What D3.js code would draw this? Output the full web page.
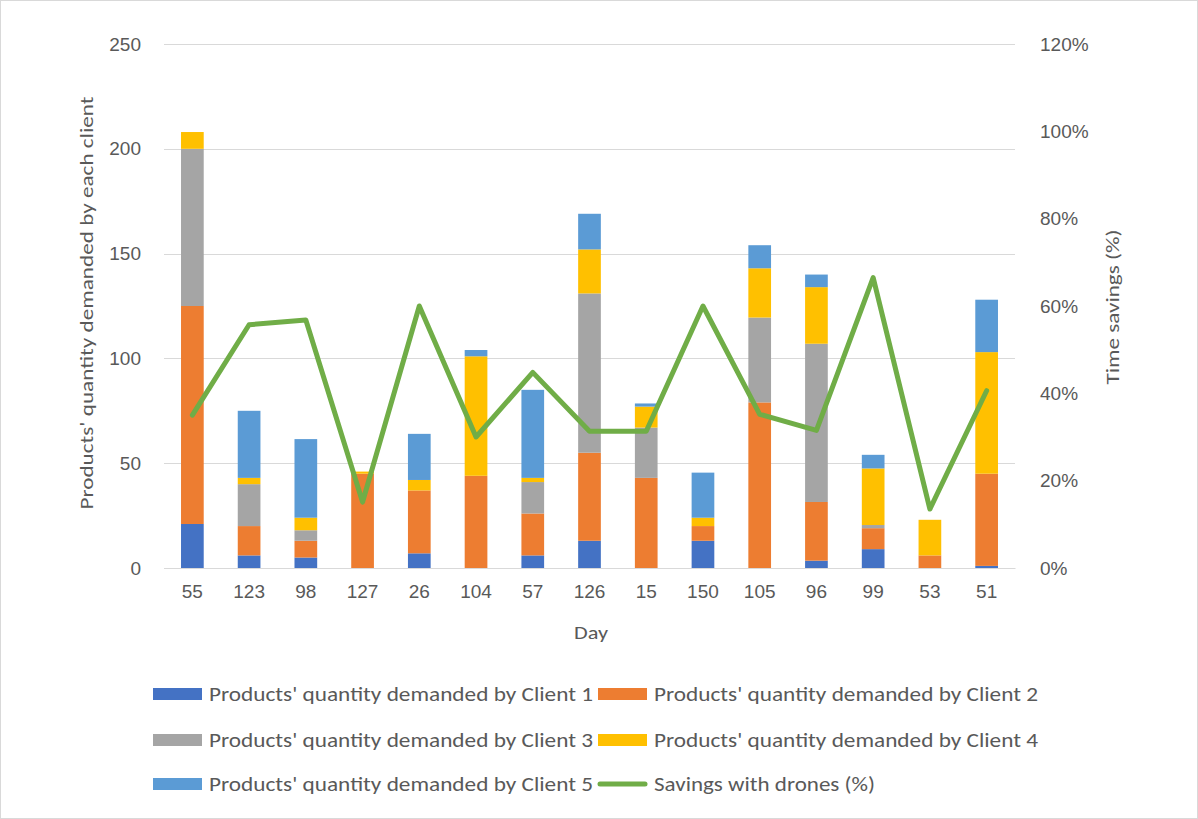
<!DOCTYPE html>
<html>
<head>
<meta charset="utf-8">
<script src="https://cdn.jsdelivr.net/npm/d3@7"></script>
<style>
  html, body { margin: 0; padding: 0; background: #fff; }
  svg { display: block; font-family: Carlito, Lato, "Open Sans", sans-serif; }
</style>
</head>
<body>
<svg id="chart" width="1198" height="819"></svg>
<script>
// Days (categories)
const days = ["55", "123", "98", "127", "26", "104", "57", "126", "15", "150", "105", "96", "99", "53", "51"];
// Products demanded by each client per day
const client1 = [21, 6, 5, 0, 7, 0, 6, 13, 0, 13, 0, 3.5, 9, 0, 1];
const client2 = [104, 14, 8, 45, 30, 44, 20, 42, 43, 7, 79, 28, 10, 6, 44];
const client3 = [75, 20, 5, 0, 0, 0, 15, 76, 24, 0, 40.5, 75.5, 1.5, 0, 0];
const client4 = [8, 3, 6, 1, 5, 57, 2, 21, 10, 4, 23.5, 27, 27, 17, 58];
const client5 = [0, 32, 37.5, 0, 22, 3, 42, 17, 1.5, 21.5, 11, 6, 6.5, 0, 25];
// Time savings with drones (fraction)
const savings = [0.35, 0.557, 0.568, 0.151, 0.60, 0.30, 0.448, 0.313, 0.313, 0.60, 0.352, 0.315, 0.665, 0.135, 0.406];
// Axis ticks
const leftTicks = [0, 50, 100, 150, 200, 250];
const rightTicks = [0, 0.2, 0.4, 0.6, 0.8, 1.0, 1.2];

const seriesNames = [
  "Products' quantity demanded by Client 1",
  "Products' quantity demanded by Client 2",
  "Products' quantity demanded by Client 3",
  "Products' quantity demanded by Client 4",
  "Products' quantity demanded by Client 5"
];
const lineName = "Savings with drones (%)";
const colors = ["#4472C4", "#ED7D31", "#A5A5A5", "#FFC000", "#5B9BD5"];
const lineColor = "#70AD47";
const textColor = "#595959";
const gridColor = "#D9D9D9";

const svg = d3.select("#chart");
const W = 1198, H = 819;

// chart frame
svg.append("rect").attr("x", 0.5).attr("y", 0.5).attr("width", W - 1).attr("height", H - 1)
  .attr("fill", "#fff").attr("stroke", "#D9D9D9");

const plot = { left: 164, right: 1015, top: 44, bottom: 568 };

const x = d3.scaleBand().domain(days).range([plot.left, plot.right]).paddingInner(0.6).paddingOuter(0.3);
const yL = d3.scaleLinear().domain([0, 250]).range([plot.bottom, plot.top]);
const yR = d3.scaleLinear().domain([0, 1.2]).range([plot.bottom, plot.top]);

// gridlines
svg.append("g").selectAll("line").data(leftTicks).join("line")
  .attr("x1", plot.left).attr("x2", plot.right)
  .attr("y1", d => Math.round(yL(d)) + 0.5).attr("y2", d => Math.round(yL(d)) + 0.5)
  .attr("stroke", gridColor).attr("stroke-width", 1);

// stacked bars
const table = days.map((d, i) => ({ day: d, c0: client1[i], c1: client2[i], c2: client3[i], c3: client4[i], c4: client5[i] }));
const stack = d3.stack().keys(["c0", "c1", "c2", "c3", "c4"])(table);

svg.append("g").selectAll("g").data(stack).join("g")
  .attr("fill", (s, i) => colors[i])
  .selectAll("rect").data(s => s).join("rect")
  .attr("x", d => x(d.data.day))
  .attr("width", x.bandwidth())
  .attr("y", d => yL(d[1]))
  .attr("height", d => yL(d[0]) - yL(d[1]));

// savings line
const line = d3.line()
  .x((d, i) => x(days[i]) + x.bandwidth() / 2)
  .y(d => yR(d));
svg.append("path").datum(savings)
  .attr("d", line)
  .attr("fill", "none")
  .attr("stroke", lineColor)
  .attr("stroke-width", 5)
  .attr("stroke-linejoin", "round")
  .attr("stroke-linecap", "round");

// left axis
const axL = svg.append("g").attr("transform", `translate(${141},0)`)
  .call(d3.axisLeft(yL).tickValues(leftTicks).tickSize(0).tickPadding(0));
axL.select(".domain").remove();
axL.selectAll("text").attr("fill", textColor).attr("font-size", 19).attr("font-family", null);

// right axis
const axR = svg.append("g").attr("transform", `translate(${1040},0)`)
  .call(d3.axisRight(yR).tickValues(rightTicks).tickSize(0).tickPadding(0).tickFormat(d3.format(".0%")));
axR.select(".domain").remove();
axR.selectAll("text").attr("fill", textColor).attr("font-size", 19).attr("font-family", null);

// bottom axis
const axB = svg.append("g").attr("transform", `translate(0,${plot.bottom})`)
  .call(d3.axisBottom(x).tickSize(0).tickPadding(17));
axB.select(".domain").attr("stroke", gridColor);
axB.selectAll("text").attr("fill", textColor).attr("font-size", 19).attr("font-family", null);

// axis titles
svg.append("text").attr("x", 591).attr("y", 639).attr("text-anchor", "middle")
  .attr("fill", textColor).attr("font-size", 19)
  .attr("textLength", 34).attr("lengthAdjust", "spacingAndGlyphs").text("Day");
svg.append("text").attr("transform", "translate(93,303) rotate(-90)").attr("text-anchor", "middle")
  .attr("fill", textColor).attr("font-size", 19)
  .attr("textLength", 413).attr("lengthAdjust", "spacingAndGlyphs")
  .text("Products' quantity demanded by each client");
svg.append("text").attr("transform", "translate(1119,307) rotate(-90)").attr("text-anchor", "middle")
  .attr("fill", textColor).attr("font-size", 19)
  .attr("textLength", 155).attr("lengthAdjust", "spacingAndGlyphs")
  .text("Time savings (%)");

// legend
const legendItems = [
  { name: seriesNames[0], color: colors[0], type: "bar", col: 0, row: 0, w: 384 },
  { name: seriesNames[1], color: colors[1], type: "bar", col: 1, row: 0, w: 384 },
  { name: seriesNames[2], color: colors[2], type: "bar", col: 0, row: 1, w: 384 },
  { name: seriesNames[3], color: colors[3], type: "bar", col: 1, row: 1, w: 384 },
  { name: seriesNames[4], color: colors[4], type: "bar", col: 0, row: 2, w: 384 },
  { name: lineName, color: lineColor, type: "line", col: 1, row: 2, w: 221 }
];
const colX = [153, 598];
const rowY = [694, 740, 784];
const lg = svg.append("g").selectAll("g").data(legendItems).join("g")
  .attr("transform", d => `translate(${colX[d.col]},${rowY[d.row]})`);
lg.filter(d => d.type === "bar").append("rect")
  .attr("x", 0).attr("y", -6).attr("width", 49).attr("height", 12).attr("fill", d => d.color);
lg.filter(d => d.type === "line").append("line")
  .attr("x1", 2).attr("x2", 47).attr("y1", 0).attr("y2", 0)
  .attr("stroke", d => d.color).attr("stroke-width", 5).attr("stroke-linecap", "round");
lg.append("text").attr("x", 56).attr("y", 0).attr("dy", "0.35em")
  .attr("fill", textColor).attr("font-size", 20)
  .attr("textLength", d => d.w).attr("lengthAdjust", "spacingAndGlyphs")
  .text(d => d.name);
</script>
</body>
</html>
